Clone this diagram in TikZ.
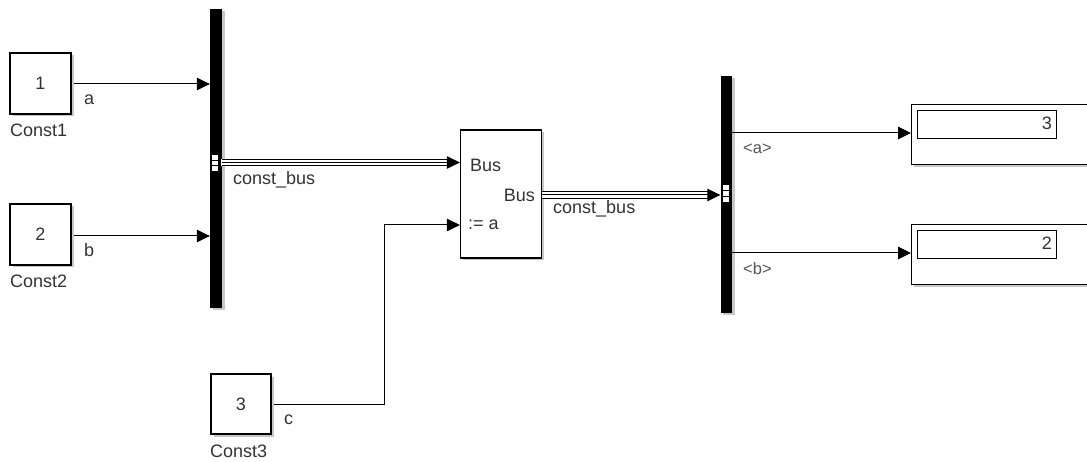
\documentclass[tikz,border=0pt]{standalone}
\usepackage{fontspec}
\setmainfont{Liberation Sans}
\usetikzlibrary{arrows.meta,shadows}
\definecolor{lbl}{HTML}{333333}
\definecolor{lbl2}{HTML}{555555}
\tikzset{
  sh/.style={drop shadow={shadow xshift=2.5pt, shadow yshift=-2.5pt, fill=black, opacity=0.22}},
  blk/.style={draw=black, line width=1.3pt, fill=white, rectangle, inner sep=0pt, sh},
  barblk/.style={fill=black, rectangle, inner sep=0pt, minimum width=12pt, sh},
  txt/.style={font=\fontsize{18}{21}\selectfont, inner sep=0pt, text=lbl},
  lab/.style={font=\fontsize{18}{21}\selectfont, inner sep=0pt, text=lbl, anchor=west},
  sig/.style={line width=1pt, -{Triangle[length=13pt,width=12.5pt]}},
  wire/.style={line width=1pt},
}
\begin{document}
\begin{tikzpicture}[x=1pt,y=-1pt]
\clip (0,0) rectangle (1087,462);
\fill[white] (0,0) rectangle (1087,462);

% constant blocks
\node[blk, minimum width=61pt, minimum height=61pt] (c1) at (40.5,83.5) {};
\node[txt] (c1t) at (c1.center) {1};
\node[lab] (c1n) at (10,130) {Const1};
\node[blk, minimum width=61pt, minimum height=61pt] (c2) at (40.5,234.5) {};
\node[txt] (c2t) at (c2.center) {2};
\node[lab] (c2n) at (10,281) {Const2};
\node[blk, minimum width=60pt, minimum height=60pt] (c3) at (241,404) {};
\node[txt] (c3t) at (c3.center) {3};
\node[lab] (c3n) at (210,451) {Const3};

% bus creator bar
\node[barblk, minimum width=12pt, minimum height=299pt] (bus1) at (216,158.5) {};
\fill[white] (212,155) rectangle (218,171);
\draw[line width=0.9pt] (212,160.4) -- (218,160.4) (212,165.7) -- (218,165.7);

% bus assignment block
\node[blk, minimum width=81pt, minimum height=128pt] (ba) at (501,194) {};
\node[txt, anchor=west] (bain) at (470,165) {Bus};
\node[txt, anchor=east] (baout) at (535,195) {Bus};
\node[txt, anchor=west] (baa) at (468,225) {:= a};

% bus selector bar
\node[barblk, minimum width=11.5pt, minimum height=237pt] (bus2) at (726.25,194.5) {};
\fill[white] (723,185) rectangle (728.5,202);
\draw[line width=0.9pt] (723,190.7) -- (728.5,190.7) (723,196.3) -- (728.5,196.3);

% displays
\node[blk, minimum width=200pt, minimum height=60pt, anchor=north west] (d1) at (911,104) {};
\node[draw=black, line width=1.3pt, rectangle, inner sep=0pt, minimum width=139pt, minimum height=28pt, anchor=north west] (d1i) at (917,110) {};
\node[txt, anchor=east, text=black!80] (d1v) at (1052,123) {3};
\node[blk, minimum width=200pt, minimum height=60pt, anchor=north west] (d2) at (911,224) {};
\node[draw=black, line width=1.3pt, rectangle, inner sep=0pt, minimum width=139pt, minimum height=28pt, anchor=north west] (d2i) at (917,230) {};
\node[txt, anchor=east, text=black!80] (d2v) at (1052,243) {2};

% signals
\draw[sig] ([xshift=2pt,yshift=-0.5pt]c1.east) -- ([yshift=-0.5pt]c1.east -| bus1.west);
\node[lab] (la) at (84,100) {a};
\draw[sig] ([xshift=2pt,yshift=-1.5pt]c2.east) -- ([yshift=-1.5pt]c2.east -| bus1.west);
\node[lab] (lb) at (84,250) {b};

% bus line 1
\coordinate (b1o) at (222,162.5);
\coordinate (bai) at (ba.west |- b1o);
\draw[line width=7.6pt, shorten >=12pt] (b1o) -- (bai);
\draw[line width=5.6pt, white, shorten >=12pt] ([xshift=-0.1pt]b1o) -- (bai);
\draw[sig, line width=1pt] (b1o) -- (bai);
\fill[white] (221.4,158.6) rectangle (222.2,166.4);
\node[lab] (lbus1) at (233,180) {const\_bus};

% c signal
\coordinate (cb) at (384,404);
\draw[sig] ([xshift=2pt]c3.east) -- (cb) -- (cb |- baa) -- (ba.west |- baa);
\node[lab] (lc) at (284,420) {c};

% bus line 2
\coordinate (bao) at (ba.east |- baout);
\coordinate (b2i) at (bus2.west |- baout);
\draw[line width=7.6pt, shorten >=12pt] (bao) -- (b2i);
\draw[line width=5.6pt, white, shorten >=12pt] (bao) -- (b2i);
\draw[sig, line width=1pt] (bao) -- (b2i);
\node[lab] (lbus2) at (553,209) {const\_bus};

% selector outputs
\coordinate (s1) at (bus2.east |- 0,133);
\draw[sig] (s1) -- (s1 -| d1.west);
\node[lab, text=lbl2, font=\fontsize{16.5}{18}\selectfont] (lsa) at (743,149) {<a>};
\coordinate (s2) at (bus2.east |- 0,253);
\draw[sig] (s2) -- (s2 -| d2.west);
\node[lab, text=lbl2, font=\fontsize{16.5}{18}\selectfont] (lsb) at (743,269) {<b>};
\end{tikzpicture}
\end{document}
